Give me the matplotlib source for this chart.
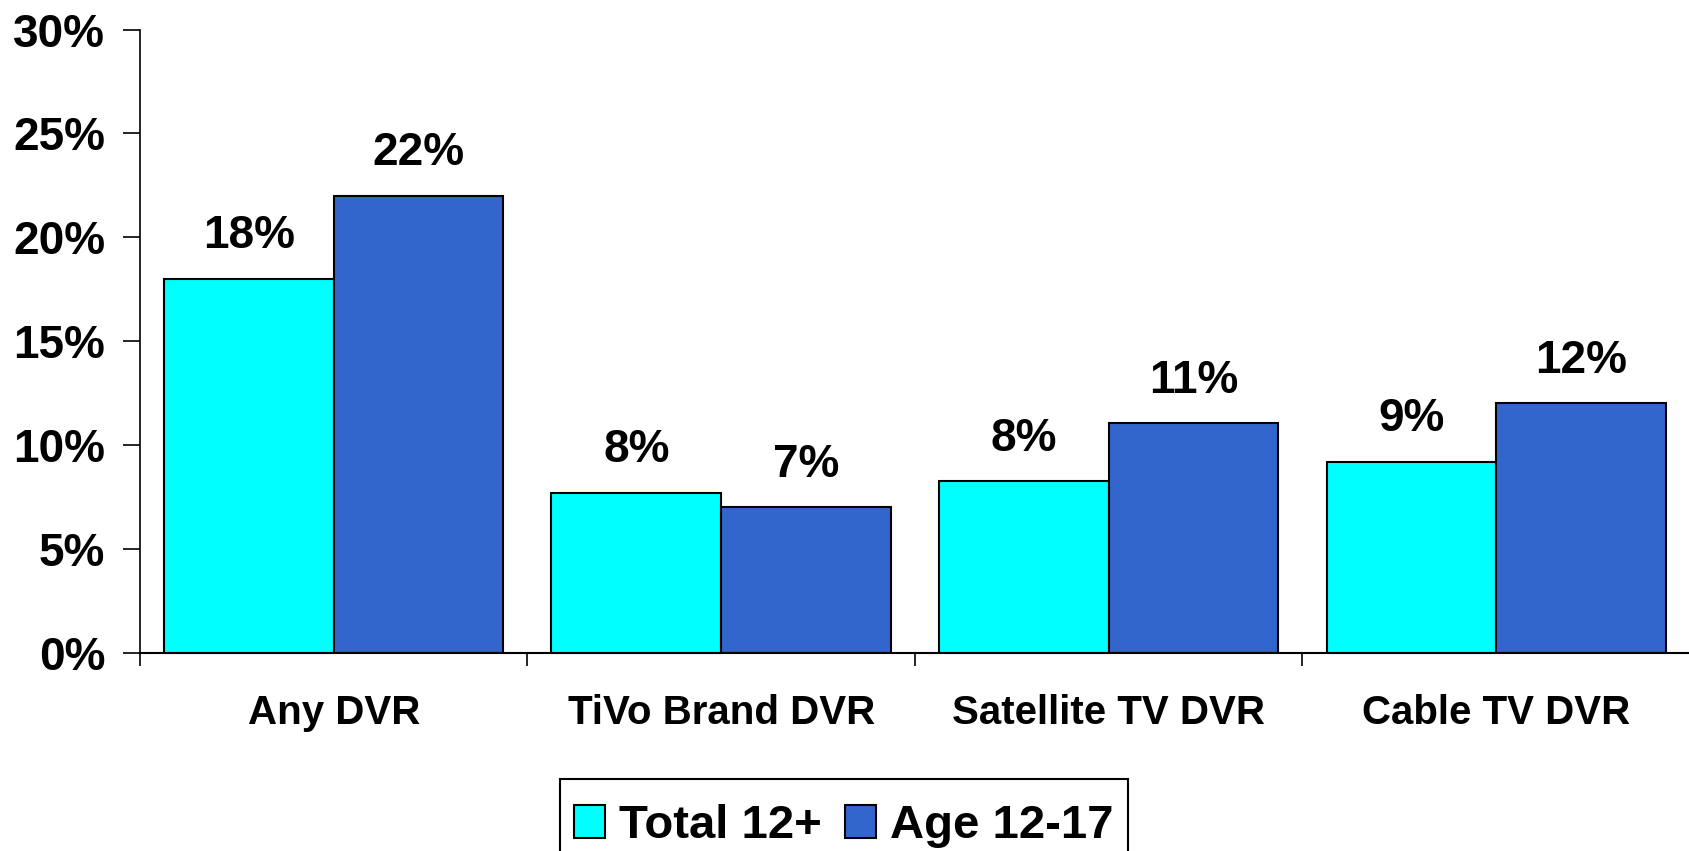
import matplotlib.pyplot as plt
import matplotlib.patches as mpatches
import numpy as np

plt.rcParams["font.family"] = ["Liberation Sans", "DejaVu Sans"]
plt.rcParams["font.weight"] = "bold"

categories = ["Any DVR", "TiVo Brand DVR", "Satellite TV DVR", "Cable TV DVR"]
total_12 = [18.0, 7.7, 8.25, 9.2]
age_12_17 = [22.0, 7.0, 11.05, 12.0]
total_labels = ["18%", "8%", "8%", "9%"]
age_labels = ["22%", "7%", "11%", "12%"]
series_names = ["Total 12+", "Age 12-17"]
y_ticks = [0, 5, 10, 15, 20, 25, 30]

fig = plt.figure(figsize=(16.9, 8.51), dpi=100)
ax = fig.add_axes([0.0828, 0.233, 1.0 - 0.0828, 0.7323])

x = np.arange(len(categories))
w = 0.438
b1 = ax.bar(x - w / 2, total_12, w, color="#00FFFF", edgecolor="black", linewidth=1.5,
            label=series_names[0])
b2 = ax.bar(x + w / 2, age_12_17, w, color="#3366CC", edgecolor="black", linewidth=1.5,
            label=series_names[1])

for bars, labs in [(b1, total_labels), (b2, age_labels)]:
    for bar, lab in zip(bars, labs):
        ax.annotate(lab, (bar.get_x() + bar.get_width() / 2, bar.get_height()),
                    xytext=(0, 22), textcoords="offset points", ha="center",
                    va="baseline", fontsize=33, fontweight="bold")

ax.set_xlim(-0.5, 3.5)
ax.set_ylim(0, 30)
ax.set_yticks(y_ticks)
ax.set_yticklabels([f"{t}%" for t in y_ticks], fontsize=33, fontweight="bold")
ax.tick_params(axis="y", direction="out", length=12, width=1.2, pad=13)

ax.set_xticks(np.arange(-0.5, 4.0, 1.0))
ax.set_xticklabels([])
ax.tick_params(axis="x", which="major", direction="out", length=9, width=1.2)
ax.set_xticks(x, minor=True)
ax.set_xticklabels(categories, minor=True, fontsize=29, fontweight="bold")
ax.tick_params(axis="x", which="minor", length=0, pad=30)

for s in ["top", "right"]:
    ax.spines[s].set_visible(False)
ax.spines["left"].set_linewidth(1.2)
ax.spines["bottom"].set_linewidth(1.5)

# legend sits low in its box, which runs off the bottom edge
leg = fig.legend(handles=[b1, b2], loc="upper center", bbox_to_anchor=(0.4994, 0.0717),
                 ncol=2, frameon=False, prop={"size": 34, "weight": "bold"},
                 handlelength=0.65, handleheight=0.7, handletextpad=0.3,
                 columnspacing=0.5, borderpad=0.3, borderaxespad=0)
fig.canvas.draw()
bb = leg.get_window_extent().transformed(fig.transFigure.inverted())
fig.patches.append(mpatches.Rectangle((bb.x0, -0.02), bb.width, 0.0846 + 0.02,
                                      transform=fig.transFigure, fill=False,
                                      edgecolor="black", linewidth=1.5, clip_on=False))

fig.savefig("out.png", dpi=100)
